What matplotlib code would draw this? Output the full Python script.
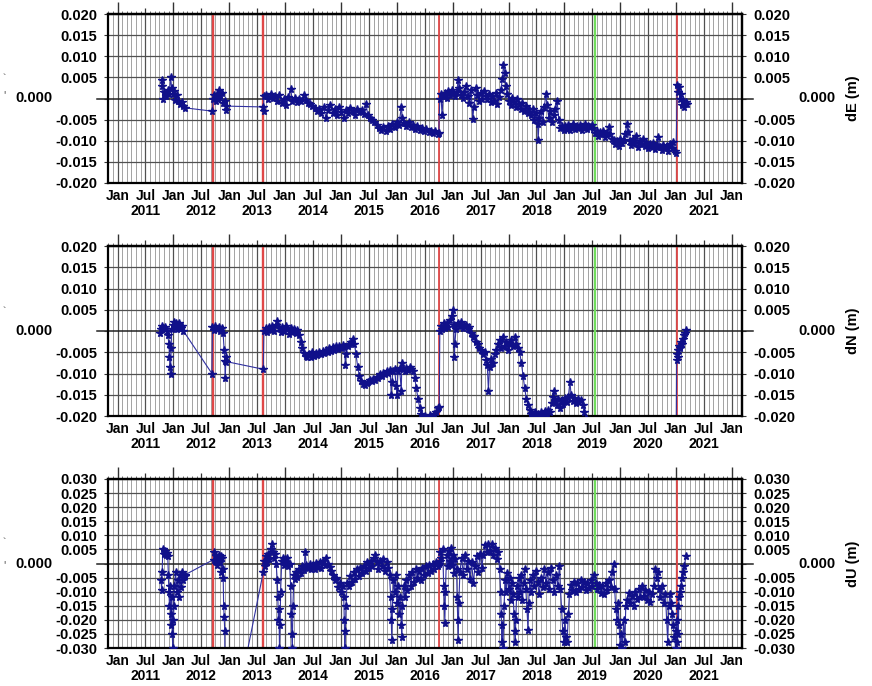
import matplotlib
matplotlib.use('Agg')
import matplotlib.pyplot as plt
import numpy as np

plt.rcParams['font.family'] = ['Liberation Sans', 'DejaVu Sans']
plt.rcParams['font.weight'] = 'bold'
plt.rcParams['axes.unicode_minus'] = False

# ---------------- data (decimal year, metres) ----------------
dE_obs = [
    (2011.79, .0044), (2011.80, .0030), (2011.81, .0000), (2011.84, .0015), (2011.87, .0005), (2011.90, .0020),
    (2011.93, .0010), (2011.95, .0050), (2011.97, .0025), (2011.99, .0010), (2012.01, .0018), (2012.03, -.0003),
    (2012.06, .0008), (2012.09, -.0005), (2012.12, -.0012), (2012.15, -.0008), (2012.18, -.0018), (2012.20, -.0022),
    (2012.70, -.0030), (2012.71, .0000), (2012.73, .0008), (2012.76, -.0005), (2012.78, .0010), (2012.80, .0000),
    (2012.82, .0020), (2012.84, .0008), (2012.87, .0012), (2012.89, -.0010), (2012.92, -.0005), (2012.94, -.0028),
    (2012.95, -.0018),
    (2013.61, -.0020), (2013.615, -.0030), (2013.62, .0005), (2013.66, .0008), (2013.70, -.0002), (2013.74, .0010),
    (2013.78, .0002), (2013.82, .0005), (2013.86, -.0005), (2013.90, .0008), (2013.94, -.0010), (2013.98, .0000),
    (2014.02, -.0015), (2014.06, .0003), (2014.10, .0022), (2014.13, -.0005), (2014.17, .0002), (2014.21, -.0008),
    (2014.25, .0000), (2014.29, -.0005), (2014.33, .0008), (2014.37, -.0003), (2014.41, -.0010), (2014.45, -.0012),
    (2014.49, -.0018), (2014.53, -.0022), (2014.57, -.0030), (2014.61, -.0025), (2014.65, -.0035), (2014.69, -.0020),
    (2014.73, -.0045), (2014.77, -.0028), (2014.81, -.0015), (2014.85, -.0035), (2014.89, -.0025), (2014.93, -.0040),
    (2014.97, -.0020), (2015.01, -.0032), (2015.05, -.0045), (2015.09, -.0028), (2015.13, -.0035), (2015.17, -.0022),
    (2015.21, -.0030), (2015.25, -.0038), (2015.29, -.0025), (2015.33, -.0032), (2015.37, -.0028), (2015.41, -.0036),
    (2015.45, -.0012), (2015.48, -.0040), (2015.52, -.0045), (2015.56, -.0050), (2015.60, -.0055), (2015.64, -.0062),
    (2015.68, -.0070), (2015.72, -.0075), (2015.76, -.0068), (2015.80, -.0078), (2015.84, -.0065), (2015.88, -.0072),
    (2015.92, -.0060), (2015.96, -.0068), (2016.00, -.0055), (2016.04, -.0062), (2016.08, -.0020), (2016.10, -.0045),
    (2016.13, -.0058), (2016.17, -.0065), (2016.21, -.0055), (2016.25, -.0068), (2016.29, -.0062), (2016.33, -.0072),
    (2016.37, -.0065), (2016.41, -.0075), (2016.45, -.0070), (2016.49, -.0078), (2016.53, -.0072), (2016.57, -.0080),
    (2016.61, -.0076), (2016.65, -.0082), (2016.69, -.0078), (2016.73, -.0085), (2016.75, -.0082),
    (2016.77, .0000), (2016.79, .0010), (2016.81, -.0038), (2016.83, .0005), (2016.86, .0012), (2016.89, .0002),
    (2016.92, .0018), (2016.95, .0008), (2016.98, .0020), (2017.01, .0012), (2017.04, .0005), (2017.07, .0015),
    (2017.10, .0043), (2017.12, .0025), (2017.15, .0008), (2017.18, .0002), (2017.21, .0015), (2017.24, .0030),
    (2017.27, .0005), (2017.30, -.0010), (2017.33, .0020), (2017.36, -.0048), (2017.38, -.0020), (2017.41, .0025),
    (2017.44, .0008), (2017.47, -.0005), (2017.50, .0012), (2017.53, .0000), (2017.56, .0018), (2017.59, .0005),
    (2017.62, -.0002), (2017.65, .0010), (2017.68, -.0008), (2017.71, .0005), (2017.74, -.0005), (2017.77, .0012),
    (2017.80, -.0012), (2017.83, .0003), (2017.86, .0020), (2017.89, .0045), (2017.91, .0080), (2017.93, .0060),
    (2017.95, .0030), (2017.98, .0010), (2018.01, -.0005), (2018.04, -.0015), (2018.07, .0002), (2018.10, -.0008),
    (2018.13, -.0020), (2018.16, .0000), (2018.19, -.0012), (2018.22, -.0025), (2018.25, -.0010), (2018.28, -.0030),
    (2018.31, -.0018), (2018.34, -.0035), (2018.37, -.0025), (2018.40, -.0040), (2018.43, -.0025), (2018.46, -.0050),
    (2018.49, -.0035), (2018.52, -.0060), (2018.53, -.0098), (2018.55, -.0045), (2018.58, -.0030), (2018.61, -.0055),
    (2018.64, -.0020), (2018.67, .0010), (2018.69, -.0015), (2018.72, -.0045), (2018.75, -.0030), (2018.78, -.0055),
    (2018.81, -.0040), (2018.84, -.0025), (2018.87, -.0006), (2018.90, -.0050), (2018.93, -.0070), (2018.96, -.0065),
    (2018.99, -.0075), (2019.01, -.0065), (2019.04, -.0072), (2019.07, -.0062), (2019.10, -.0075), (2019.13, -.0068),
    (2019.16, -.0060), (2019.19, -.0072), (2019.22, -.0065), (2019.25, -.0070), (2019.28, -.0062), (2019.31, -.0075),
    (2019.34, -.0068), (2019.37, -.0060), (2019.40, -.0072), (2019.43, -.0065), (2019.46, -.0068), (2019.49, -.0062),
    (2019.52, -.0070), (2019.55, -.0082), (2019.58, -.0078), (2019.61, -.0088), (2019.64, -.0080), (2019.67, -.0085),
    (2019.70, -.0078), (2019.73, -.0090), (2019.76, -.0082), (2019.79, -.0068), (2019.82, -.0085), (2019.85, -.0095),
    (2019.88, -.0098), (2019.91, -.0108), (2019.94, -.0100), (2019.97, -.0112), (2020.00, -.0095), (2020.03, -.0105),
    (2020.06, -.0098), (2020.09, -.0085), (2020.12, -.0060), (2020.14, -.0080), (2020.17, -.0100), (2020.20, -.0110),
    (2020.23, -.0095), (2020.26, -.0105), (2020.29, -.0088), (2020.32, -.0115), (2020.35, -.0100), (2020.38, -.0108),
    (2020.41, -.0095), (2020.44, -.0112), (2020.47, -.0102), (2020.50, -.0118), (2020.53, -.0108), (2020.56, -.0115),
    (2020.59, -.0105), (2020.62, -.0120), (2020.65, -.0110), (2020.68, -.0090), (2020.71, -.0115), (2020.74, -.0122),
    (2020.77, -.0110), (2020.80, -.0118), (2020.83, -.0112), (2020.86, -.0125), (2020.89, -.0108), (2020.92, -.0118),
    (2020.95, -.0102), (2020.98, -.0125), (2021.00, -.0130),
    (2021.02, .0033), (2021.03, .0015), (2021.05, .0028), (2021.07, .0000), (2021.09, .0010), (2021.11, -.0015),
    (2021.13, -.0005), (2021.15, -.0020), (2021.17, -.0008), (2021.19, -.0012),
]

dN_obs = [
    (2011.76, -.0004), (2011.78, .0005), (2011.80, .0012), (2011.82, .0008), (2011.85, .0010), (2011.88, .0000),
    (2011.90, -.0010), (2011.92, -.0030), (2011.93, -.0060), (2011.94, -.0085), (2011.95, -.0100), (2011.96, -.0040),
    (2011.97, .0005), (2011.99, .0015), (2012.01, .0022), (2012.03, .0010), (2012.05, .0020), (2012.07, .0005),
    (2012.10, .0018), (2012.13, .0008), (2012.16, .0012), (2012.18, .0000),
    (2012.69, -.0100), (2012.70, .0010), (2012.72, .0002), (2012.75, .0012), (2012.78, .0005), (2012.81, .0010),
    (2012.84, .0000), (2012.87, .0008), (2012.89, -.0005), (2012.91, -.0045), (2012.92, -.0070), (2012.93, -.0110),
    (2012.94, -.0060), (2012.95, -.0072),
    (2013.61, -.0090), (2013.62, .0000), (2013.65, .0008), (2013.68, -.0002), (2013.71, .0010), (2013.74, .0003),
    (2013.77, .0012), (2013.80, .0000), (2013.83, .0015), (2013.86, .0024), (2013.89, .0008), (2013.92, -.0002),
    (2013.95, .0010), (2013.98, .0000), (2014.01, .0012), (2014.04, .0005), (2014.07, -.0008), (2014.10, .0008),
    (2014.13, -.0002), (2014.16, .0005), (2014.19, -.0005), (2014.22, .0002), (2014.25, -.0010), (2014.28, -.0025),
    (2014.31, -.0040), (2014.34, -.0052), (2014.37, -.0058), (2014.40, -.0062), (2014.43, -.0055), (2014.46, -.0060),
    (2014.49, -.0050), (2014.52, -.0058), (2014.55, -.0052), (2014.58, -.0056), (2014.61, -.0050), (2014.64, -.0055),
    (2014.67, -.0048), (2014.70, -.0052), (2014.73, -.0045), (2014.76, -.0050), (2014.79, -.0040), (2014.82, -.0046),
    (2014.85, -.0038), (2014.88, -.0044), (2014.91, -.0036), (2014.94, -.0042), (2014.97, -.0035), (2015.00, -.0040),
    (2015.03, -.0032), (2015.06, -.0038), (2015.08, -.0080), (2015.09, -.0055), (2015.12, -.0035), (2015.15, -.0030),
    (2015.18, -.0025), (2015.21, -.0018), (2015.24, -.0030), (2015.27, -.0055), (2015.30, -.0085), (2015.33, -.0105),
    (2015.36, -.0118), (2015.40, -.0125), (2015.43, -.0128), (2015.46, -.0122), (2015.49, -.0120), (2015.52, -.0115),
    (2015.55, -.0118), (2015.58, -.0112), (2015.61, -.0115), (2015.64, -.0108), (2015.67, -.0110), (2015.70, -.0102),
    (2015.73, -.0105), (2015.76, -.0098), (2015.79, -.0100), (2015.82, -.0095), (2015.85, -.0098), (2015.88, -.0092),
    (2015.90, -.0150), (2015.91, -.0120), (2015.93, -.0095), (2015.96, -.0090), (2015.99, -.0130), (2016.00, -.0150),
    (2016.02, -.0095), (2016.05, -.0088), (2016.08, -.0140), (2016.09, -.0076), (2016.11, -.0090), (2016.14, -.0095),
    (2016.17, -.0088), (2016.20, -.0092), (2016.23, -.0085), (2016.26, -.0090), (2016.29, -.0095), (2016.32, -.0110),
    (2016.35, -.0135), (2016.38, -.0160), (2016.41, -.0180), (2016.44, -.0195), (2016.47, -.0205), (2016.51, -.0200),
    (2016.55, -.0208), (2016.59, -.0198), (2016.63, -.0202), (2016.67, -.0195), (2016.70, -.0190), (2016.73, -.0182),
    (2016.76, -.0178),
    (2016.77, .0000), (2016.79, .0012), (2016.81, .0005), (2016.84, .0018), (2016.86, .0008), (2016.89, .0020),
    (2016.92, .0010), (2016.95, .0025), (2016.98, .0035), (2017.00, .0050), (2017.02, .0015), (2017.03, -.0060),
    (2017.04, -.0030), (2017.06, .0005), (2017.09, .0020), (2017.12, .0012), (2017.15, .0022), (2017.18, .0008),
    (2017.21, .0015), (2017.24, .0015), (2017.27, .0005), (2017.30, .0010), (2017.33, -.0005), (2017.36, -.0015),
    (2017.39, -.0012), (2017.42, -.0025), (2017.45, -.0030), (2017.48, -.0040), (2017.51, -.0045), (2017.54, -.0055),
    (2017.57, -.0050), (2017.60, -.0068), (2017.62, -.0080), (2017.64, -.0140), (2017.66, -.0085), (2017.69, -.0065),
    (2017.72, -.0075), (2017.75, -.0055), (2017.78, -.0045), (2017.81, -.0030), (2017.84, -.0020), (2017.87, -.0040),
    (2017.90, -.0015), (2017.93, -.0035), (2017.96, -.0025), (2017.99, -.0045), (2018.02, -.0030), (2018.05, -.0020),
    (2018.08, -.0035), (2018.11, -.0015), (2018.14, -.0030), (2018.17, -.0040), (2018.20, -.0050), (2018.23, -.0075),
    (2018.26, -.0105), (2018.29, -.0135), (2018.32, -.0160), (2018.35, -.0175), (2018.38, -.0185), (2018.41, -.0195),
    (2018.44, -.0200), (2018.47, -.0190), (2018.50, -.0205), (2018.53, -.0195), (2018.56, -.0200), (2018.59, -.0190),
    (2018.62, -.0198), (2018.65, -.0188), (2018.68, -.0195), (2018.71, -.0185), (2018.74, -.0190), (2018.77, -.0170),
    (2018.80, -.0155), (2018.81, -.0140), (2018.83, -.0165), (2018.86, -.0175), (2018.89, -.0160), (2018.92, -.0180),
    (2018.95, -.0162), (2018.98, -.0172), (2019.01, -.0158), (2019.04, -.0168), (2019.07, -.0155), (2019.10, -.0120),
    (2019.12, -.0150), (2019.15, -.0165), (2019.18, -.0158), (2019.21, -.0170), (2019.24, -.0160), (2019.27, -.0168),
    (2019.30, -.0162), (2019.33, -.0175), (2019.36, -.0190), (2019.39, -.0205),
    (2019.45, -.0230), (2019.60, -.0250), (2019.80, -.0260), (2020.00, -.0280), (2020.20, -.0270), (2020.40, -.0290),
    (2020.60, -.0300), (2020.80, -.0300), (2021.00, -.0310),
    (2021.01, -.0068), (2021.02, -.0055), (2021.03, -.0045), (2021.04, -.0060), (2021.05, -.0035), (2021.07, -.0040),
    (2021.08, -.0025), (2021.10, -.0030), (2021.12, -.0018), (2021.14, -.0010), (2021.16, -.0005), (2021.18, .0002),
]

dU_obs = [
    (2011.78, -.0060), (2011.79, -.0095), (2011.80, -.0030), (2011.81, .0050), (2011.83, .0035), (2011.85, .0045),
    (2011.87, .0030), (2011.89, .0038), (2011.90, .0025), (2011.91, -.0040), (2011.92, -.0100), (2011.93, -.0150),
    (2011.94, -.0080), (2011.95, -.0180), (2011.96, -.0220), (2011.97, -.0120), (2011.98, -.0250), (2011.99, -.0300),
    (2012.00, -.0200), (2012.01, -.0150), (2012.02, -.0080), (2012.04, -.0030), (2012.06, -.0100), (2012.08, -.0060),
    (2012.10, -.0120), (2012.12, -.0040), (2012.14, -.0085), (2012.16, -.0030), (2012.18, -.0060), (2012.20, -.0045),
    (2012.21, -.0040),
    (2012.72, .0014), (2012.73, .0040), (2012.75, .0010), (2012.77, .0025), (2012.79, -.0005), (2012.81, .0030),
    (2012.83, .0005), (2012.85, .0025), (2012.86, -.0030), (2012.87, .0020), (2012.88, -.0050), (2012.89, -.0020),
    (2012.90, -.0150), (2012.91, -.0190), (2012.92, -.0240), (2012.93, -.0700),
    (2013.61, -.0030), (2013.62, .0010), (2013.64, -.0010), (2013.66, .0025), (2013.68, .0005), (2013.70, .0035),
    (2013.72, .0015), (2013.74, .0050), (2013.76, .0070), (2013.78, .0040), (2013.80, .0020), (2013.82, .0035),
    (2013.84, .0000), (2013.86, -.0060), (2013.87, -.0120), (2013.88, -.0200), (2013.89, -.0160), (2013.90, -.0300),
    (2013.91, -.0220), (2013.92, -.0100), (2013.94, .0010), (2013.96, .0020), (2013.98, -.0005), (2014.00, .0015),
    (2014.02, .0005), (2014.04, .0018), (2014.06, -.0010), (2014.08, .0000), (2014.10, -.0080), (2014.11, -.0180),
    (2014.12, -.0250), (2014.13, -.0300), (2014.14, -.0150), (2014.16, -.0040), (2014.18, -.0055), (2014.20, -.0030),
    (2014.22, -.0048), (2014.25, -.0020), (2014.28, -.0035), (2014.31, -.0010), (2014.34, -.0022), (2014.36, .0040),
    (2014.38, -.0005), (2014.41, -.0015), (2014.44, .0000), (2014.47, -.0018), (2014.50, -.0005), (2014.53, -.0020),
    (2014.56, .0002), (2014.59, -.0012), (2014.62, .0005), (2014.65, -.0015), (2014.68, .0010), (2014.71, -.0005),
    (2014.74, .0018), (2014.77, .0000), (2014.80, -.0012), (2014.83, -.0025), (2014.86, -.0040), (2014.89, -.0060),
    (2014.92, -.0050), (2014.95, -.0085), (2014.98, -.0070), (2015.01, -.0100), (2015.03, -.0080), (2015.05, -.0120),
    (2015.06, -.0200), (2015.07, -.0300), (2015.08, -.0240), (2015.09, -.0150), (2015.11, -.0070), (2015.14, -.0080),
    (2015.17, -.0045), (2015.20, -.0065), (2015.23, -.0030), (2015.26, -.0055), (2015.29, -.0020), (2015.32, -.0045),
    (2015.35, -.0015), (2015.38, -.0035), (2015.41, -.0010), (2015.44, -.0028), (2015.47, .0005), (2015.50, -.0015),
    (2015.53, .0010), (2015.56, -.0010), (2015.59, .0020), (2015.61, .0030), (2015.64, .0005), (2015.67, -.0020),
    (2015.70, .0010), (2015.73, -.0010), (2015.76, .0015), (2015.79, -.0025), (2015.82, .0005), (2015.85, -.0015),
    (2015.87, -.0040), (2015.89, -.0120), (2015.90, -.0200), (2015.91, -.0270), (2015.92, -.0160), (2015.94, -.0060),
    (2015.96, -.0100), (2015.98, -.0040), (2016.00, -.0140), (2016.02, -.0080), (2016.04, -.0180), (2016.06, -.0120),
    (2016.08, -.0220), (2016.09, -.0260), (2016.10, -.0150), (2016.12, -.0080), (2016.14, -.0120), (2016.16, -.0060),
    (2016.19, -.0095), (2016.22, -.0040), (2016.25, -.0080), (2016.28, -.0030), (2016.31, -.0065), (2016.34, -.0020),
    (2016.37, -.0050), (2016.40, -.0025), (2016.43, -.0060), (2016.46, -.0015), (2016.49, -.0040), (2016.52, -.0010),
    (2016.55, -.0035), (2016.58, -.0005), (2016.61, -.0025), (2016.64, .0000), (2016.67, -.0020), (2016.70, .0005),
    (2016.73, -.0010), (2016.76, .0000),
    (2016.77, .0010), (2016.78, .0040), (2016.80, .0020), (2016.82, .0050), (2016.84, -.0080), (2016.85, -.0150),
    (2016.86, -.0210), (2016.87, -.0100), (2016.89, .0030), (2016.91, -.0010), (2016.93, .0045), (2016.95, .0010),
    (2016.97, .0055), (2016.99, -.0005), (2017.01, .0030), (2017.03, -.0035), (2017.05, .0015), (2017.07, -.0020),
    (2017.08, -.0120), (2017.09, -.0200), (2017.10, -.0270), (2017.11, -.0140), (2017.13, -.0030), (2017.16, .0020),
    (2017.19, -.0040), (2017.22, .0030), (2017.25, -.0020), (2017.28, .0010), (2017.31, -.0055), (2017.34, .0005),
    (2017.37, -.0070), (2017.40, -.0010), (2017.43, .0025), (2017.46, -.0030), (2017.49, .0035), (2017.52, -.0015),
    (2017.55, .0030), (2017.58, .0065), (2017.61, .0040), (2017.64, .0070), (2017.67, .0045), (2017.70, .0068),
    (2017.73, .0030), (2017.76, .0055), (2017.79, .0015), (2017.82, .0040), (2017.84, -.0020), (2017.86, -.0100),
    (2017.87, -.0180), (2017.88, -.0280), (2017.89, -.0220), (2017.90, -.0300), (2017.92, -.0150), (2017.94, -.0060),
    (2017.96, -.0100), (2017.98, -.0035), (2018.00, -.0090), (2018.02, -.0050), (2018.04, -.0130), (2018.06, -.0070),
    (2018.08, -.0110), (2018.10, -.0180), (2018.11, -.0240), (2018.12, -.0280), (2018.13, -.0200), (2018.15, -.0080),
    (2018.17, -.0120), (2018.19, -.0050), (2018.21, -.0100), (2018.23, -.0040), (2018.25, -.0130), (2018.27, -.0070),
    (2018.29, -.0020), (2018.31, -.0090), (2018.33, -.0160), (2018.35, -.0235), (2018.36, -.0140), (2018.38, -.0060),
    (2018.40, -.0100), (2018.43, -.0040), (2018.46, -.0080), (2018.49, -.0025), (2018.52, -.0065), (2018.55, -.0110),
    (2018.58, -.0050), (2018.61, -.0085), (2018.64, -.0020), (2018.67, -.0070), (2018.70, -.0030), (2018.73, -.0090),
    (2018.76, -.0015), (2018.79, -.0060), (2018.82, -.0100), (2018.85, -.0040), (2018.88, -.0080), (2018.91, -.0010),
    (2018.93, -.0090), (2018.95, -.0160), (2018.97, -.0240), (2018.99, -.0280), (2019.01, -.0200), (2019.03, -.0260),
    (2019.05, -.0280), (2019.07, -.0180), (2019.09, -.0110), (2019.11, -.0075), (2019.14, -.0095), (2019.17, -.0065),
    (2019.20, -.0100), (2019.23, -.0070), (2019.26, -.0090), (2019.29, -.0060), (2019.32, -.0085), (2019.35, -.0065),
    (2019.38, -.0095), (2019.41, -.0070), (2019.44, -.0088), (2019.47, -.0060), (2019.50, -.0080), (2019.53, -.0040),
    (2019.56, -.0070), (2019.59, -.0090), (2019.62, -.0075), (2019.65, -.0105), (2019.68, -.0080), (2019.71, -.0110),
    (2019.74, -.0070), (2019.77, -.0095), (2019.80, -.0060), (2019.83, -.0085), (2019.86, -.0030), (2019.88, .0000),
    (2019.90, -.0090), (2019.92, -.0160), (2019.94, -.0200), (2019.96, -.0140), (2019.98, -.0220), (2020.00, -.0290),
    (2020.02, -.0250), (2020.04, -.0300), (2020.06, -.0200), (2020.08, -.0280), (2020.10, -.0150), (2020.12, -.0130),
    (2020.15, -.0105), (2020.18, -.0140), (2020.21, -.0115), (2020.24, -.0150), (2020.27, -.0100), (2020.30, -.0125),
    (2020.33, -.0090), (2020.36, -.0120), (2020.39, -.0080), (2020.42, -.0115), (2020.45, -.0095), (2020.48, -.0130),
    (2020.51, -.0100), (2020.54, -.0135), (2020.57, -.0110), (2020.60, -.0080), (2020.63, -.0020), (2020.65, -.0050),
    (2020.67, -.0030), (2020.69, -.0090), (2020.72, -.0120), (2020.75, -.0080), (2020.78, -.0140), (2020.81, -.0110),
    (2020.83, -.0200), (2020.85, -.0280), (2020.87, -.0150), (2020.89, -.0110), (2020.91, -.0140), (2020.93, -.0180),
    (2020.95, -.0220), (2020.97, -.0260), (2020.99, -.0300), (2021.00, -.0240),
    (2021.01, -.0200), (2021.02, -.0280), (2021.03, -.0150), (2021.04, -.0250), (2021.05, -.0120), (2021.07, -.0100),
    (2021.09, -.0080), (2021.11, -.0050), (2021.13, -.0030), (2021.15, -.0010), (2021.17, .0025),
]

red_events = [2012.71, 2013.61, 2016.76, 2021.01]
red_widths = [1.7, 1.7, 1.3, 1.3]
green_events = [2019.55]

axis_labels = ['dE (m)', 'dN (m)', 'dU (m)']
y_limits = [0.020, 0.020, 0.030]
years = list(range(2011, 2023))

# ---------------- figure ----------------
W, H = 872, 686
fig = plt.figure(figsize=(W / 100, H / 100), dpi=100)

L, R = 108, 742
panel_px = [(14, 183), (246, 416), (479, 648)]
xmin = 2011 - (117.5 - L) / 55.86
xmax = 2011 + (R - 117.5) / 55.86

navy = '#10108a'
grid_dark = '#505050'
grid_light = '#9c9c9c'

series = [dE_obs, dN_obs, dU_obs]

major_x = []
major_lbl = []
for y in years:
    major_x.append(y)
    major_lbl.append('Jan')
    if y < years[-1]:
        major_x.append(y + 0.5)
        major_lbl.append('Jul\n%d' % y)
minor_x = [y + m / 12 for y in range(2010, 2023) for m in range(12)
           if xmin <= y + m / 12 <= xmax]
jan_x = [y for y in years]
jul_x = [y + 0.5 for y in years[:-1]]

for i, (obs, lab, lim, (ptop, pbot)) in enumerate(zip(series, axis_labels, y_limits, panel_px)):
    ax = fig.add_axes([L / W, 1 - pbot / H, (R - L) / W, (pbot - ptop) / H])
    t = np.array([p[0] for p in obs])
    v = np.array([p[1] for p in obs])
    ax.set_xlim(xmin, xmax)
    ax.set_ylim(-lim, lim)

    yt = np.round(np.arange(-lim, lim + 1e-9, 0.005), 3)
    ylbl = ['' if abs(y) < 1e-9 else '%.3f' % y for y in yt]

    # grid
    for x in minor_x:
        ax.axvline(x, color=grid_light, lw=0.65, zorder=0.5)
    for x in major_x:
        ax.axvline(x, color=grid_dark, lw=0.9, zorder=0.6)
    for y in yt:
        if abs(y) < 1e-9:
            continue
        ax.axhline(y, color=grid_dark, lw=0.9, zorder=0.6)
    ax.plot([-11 / (R - L), 1 + 11 / (R - L)], [0.5, 0.5], transform=ax.transAxes,
            color='#222222', lw=1.1, clip_on=False, zorder=0.7)

    # events
    for ev, lw in zip(red_events, red_widths):
        ax.axvline(ev, color='#e04848', lw=lw, zorder=1)
    for ev in green_events:
        ax.axvline(ev, color='#70dc5c', lw=1.6, zorder=1)

    # data
    ax.plot(t, v, '-', color='#3030a0', lw=0.8, zorder=2)
    ax.plot(t, v, ls='none', marker='*', ms=5.8, mfc=navy, mec=navy, mew=1.0, zorder=3)

    # ticks
    ax.set_xticks(major_x)
    ax.set_xticklabels(major_lbl, fontsize=10, fontweight='bold', linespacing=1.15)
    ax.set_xticks([], minor=True)
    ax.tick_params(axis='x', which='both', length=0, pad=4)
    ax.set_yticks(yt)
    ax.set_yticklabels(ylbl, fontsize=10.5, fontweight='bold')
    ax.tick_params(axis='y', length=3, width=0.8, color='#333333', pad=5)

    sec = ax.secondary_yaxis('right')
    sec.set_yticks(yt)
    sec.set_yticklabels(ylbl, fontsize=10.5, fontweight='bold')
    sec.tick_params(axis='y', length=3, width=0.8, color='#333333', pad=5)
    sec.spines['right'].set_linewidth(1.6)

    top = ax.secondary_xaxis('top')
    top.set_xticks(jan_x)
    top.set_xticks(minor_x, minor=True)
    top.tick_params(axis='x', which='major', length=9, width=1.0, direction='out', labeltop=False, color='#333333')
    top.tick_params(axis='x', which='minor', length=2, width=0.6, direction='out', color='#555555')
    top.spines['top'].set_linewidth(1.6)
    top2 = ax.secondary_xaxis('top')
    top2.set_xticks(jul_x)
    top2.tick_params(axis='x', which='major', length=4, width=0.9, direction='out', labeltop=False, color='#333333')
    top2.spines['top'].set_visible(False)

    for s in ax.spines.values():
        s.set_linewidth(1.6)

    # zero labels
    ax.text(-56 / (R - L), 0.5, '0.000', transform=ax.transAxes, ha='right', va='center',
            fontsize=10.5, fontweight='bold')
    ax.text(1 + 56 / (R - L), 0.5, '0.000', transform=ax.transAxes, ha='left', va='center',
            fontsize=10.5, fontweight='bold')
    ax.text(1 + 111 / (R - L), 0.5, lab, transform=ax.transAxes, ha='center', va='center',
            rotation=90, fontsize=10.5, fontweight='bold')

# faint marks at left edge
for (px, py, ch) in [(4, 78, '`'), (5, 95, "'"), (4, 311, '`'), (4, 542, '`'), (5, 565, "'")]:
    fig.text(px / W, 1 - py / H, ch, fontsize=7, color='#777777', ha='center', va='center')

fig.savefig('out.png', dpi=100)
